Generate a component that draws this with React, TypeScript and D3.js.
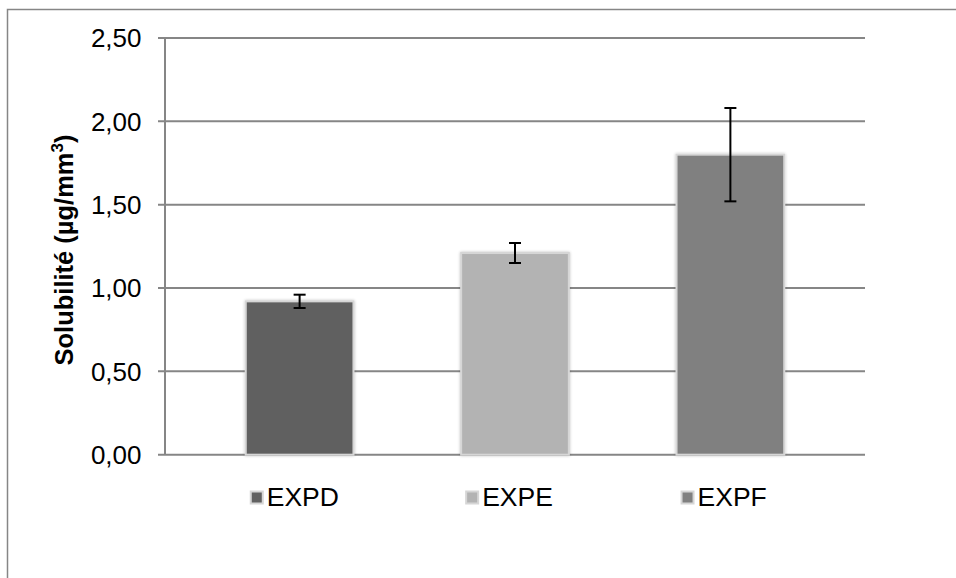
import React from "react";
import * as d3 from "d3";

const categories = ["EXPD", "EXPE", "EXPF"];
const values = [0.92, 1.21, 1.8];
const errors = [0.04, 0.06, 0.28];
const colors = ["#616161", "#b3b3b3", "#808080"];
const yTicks = [0, 0.5, 1, 1.5, 2, 2.5];

const W = 956;
const H = 578;
const plot = { left: 165, right: 865, top: 38, bottom: 454.7 };
const font = "Arial, 'Liberation Sans', sans-serif";

export default function App() {
  const y = d3.scaleLinear().domain([0, 2.5]).range([plot.bottom, plot.top]);
  const x = d3
    .scaleBand<string>()
    .domain(categories)
    .range([plot.left, plot.right])
    .paddingInner(0.5)
    .paddingOuter(0.375);
  const fmt = (v: number) => d3.format(".2f")(v).replace(".", ",");
  const bw = x.bandwidth();

  return (
    <div style={{ position: "absolute", left: 0, top: 0 }}>
      <svg width={W} height={H} style={{ display: "block" }}>
        <defs>
          <filter id="sh" x="-10%" y="-10%" width="120%" height="120%">
            <feGaussianBlur in="SourceAlpha" stdDeviation="1.5" />
            <feOffset dx="0" dy="0" result="b" />
            <feComponentTransfer>
              <feFuncA type="linear" slope="0.25" />
            </feComponentTransfer>
            <feMerge>
              <feMergeNode />
              <feMergeNode in="SourceGraphic" />
            </feMerge>
          </filter>
        </defs>
        <rect x={0} y={0} width={W} height={H} fill="#fff" />
        <rect x={7.5} y={9.5} width={W + 10} height={H + 10} fill="none" stroke="#868686" strokeWidth={1.5} />
        {yTicks.map((t) => (
          <g key={t}>
            <line x1={plot.left - 7} x2={plot.right} y1={y(t)} y2={y(t)} stroke="#868686" strokeWidth={2} />
            <text
              x={141.5}
              y={y(t)}
              dy="0.36em"
              textAnchor="end"
              fontFamily={font}
              fontSize={26}
              fill="#000"
            >
              {fmt(t)}
            </text>
          </g>
        ))}
        <line x1={plot.left} x2={plot.left} y1={plot.top} y2={plot.bottom} stroke="#868686" strokeWidth={2} />
        <text
          transform={`translate(73,250) rotate(-90)`}
          textAnchor="middle"
          fontFamily={font}
          fontSize={25.5}
          fontWeight="bold"
          fill="#000"
        >
          Solubilité (µg/mm
          <tspan fontSize={17} dy={-10}>3</tspan>
          <tspan dy={10}>)</tspan>
        </text>
        {categories.map((c, i) => {
          const x0 = x(c)!;
          const cx = x0 + bw / 2;
          return (
            <g key={c}>
              <rect
                x={x0}
                y={y(values[i])}
                width={bw}
                height={y(0) - y(values[i])}
                fill={colors[i]}
                stroke="#d6d6d6"
                strokeWidth={2}
                filter="url(#sh)"
              />
              <line x1={cx} x2={cx} y1={y(values[i] + errors[i])} y2={y(values[i] - errors[i])} stroke="#000" strokeWidth={2} />
              <line x1={cx - 6} x2={cx + 6} y1={y(values[i] + errors[i])} y2={y(values[i] + errors[i])} stroke="#000" strokeWidth={2} />
              <line x1={cx - 6} x2={cx + 6} y1={y(values[i] - errors[i])} y2={y(values[i] - errors[i])} stroke="#000" strokeWidth={2} />
              <rect x={x0 + 5} y={491.5} width={12} height={12} fill={colors[i]} stroke="#d6d6d6" strokeWidth={2} />
              <text x={x0 + 21} y={506} fontFamily={font} fontSize={26.5} fill="#000">
                {c}
              </text>
            </g>
          );
        })}
      </svg>
    </div>
  );
}
